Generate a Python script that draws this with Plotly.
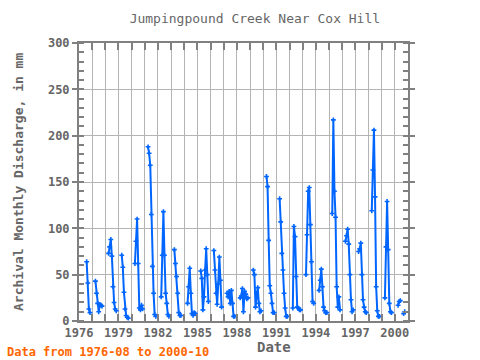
import plotly.graph_objects as go

# ---- data (monthly discharge, mm), open-water season segments ----
years = list(range(1976, 2001))
first_month = [8] + [4] * 24
values_by_year = [
    [64, 41, 13, 9],                          # 1976
    [43, 30, 19, 10, 18, 17, 16],             # 1977
    [73, 80, 88, 70, 37, 20, 13, 11],         # 1978
    [71, 58, 31, 13, 6, 4, 3],                # 1979
    [62, 86, 110, 62, 14, 12, 17, 13],        # 1980
    [188, 181, 168, 115, 59, 30, 7, 5],       # 1981
    [26, 71, 118, 71, 30, 19, 7, 5],          # 1982
    [77, 62, 48, 30, 9, 6, 6],                # 1983
    [19, 37, 57, 30, 8, 6, 9, 8],             # 1984
    [54, 46, 12, 26, 55, 78, 50, 21],         # 1985
    [76, 55, 30, 18, 40, 69, 44, 15],         # 1986
    [30, 26, 32, 19, 33, 19, 5, 5],           # 1987
    [25, 27, 35, 10, 32, 29, 24, 25],         # 1988
    [55, 50, 15, 30, 36, 19, 10, 11],         # 1989
    [156, 145, 87, 38, 30, 19, 9, 9],         # 1990
    [132, 107, 73, 55, 30, 14, 5, 5],         # 1991
    [14, 102, 91, 48, 15, 14, 12, 12],        # 1992
    [50, 93, 140, 144, 104, 64, 21, 19],      # 1993
    [33, 44, 56, 37, 15, 11, 9, 9],           # 1994
    [116, 217, 140, 112, 37, 15, 26, 12],     # 1995
    [86, 92, 99, 83, 50, 23, 10, 12],         # 1996
    [75, 78, 84, 50, 23, 15, 10, 9],          # 1997
    [119, 163, 206, 134, 37, 11, 5, 5],       # 1998
    [25, 80, 129, 77, 19, 10, 9],             # 1999
    [17, 21, 22, None, None, 8, 10],          # 2000
]
y_ticks = [0, 50, 100, 150, 200, 250, 300]

# build date series with gaps between seasons
x, y = [], []
for yr, m0, vals in zip(years, first_month, values_by_year):
    for i, v in enumerate(vals):
        x.append(f"{yr}-{m0 + i:02d}-01")
        y.append(v)
    x.append(f"{yr}-12-15")
    y.append(None)

FONT = "DejaVu Sans Mono"
GREY = "#666666"
AX = "#808080"

fig = go.Figure()
fig.add_trace(go.Scatter(
    x=x, y=y, mode="lines+markers", connectgaps=False,
    line=dict(color="#0066ff", width=2),
    marker=dict(symbol="cross", size=4, color="#0066ff", line=dict(width=0)),
    hoverinfo="skip", showlegend=False,
))

fig.update_layout(
    width=480, height=360, autosize=False,
    margin=dict(l=79, r=72, t=43, b=39),
    paper_bgcolor="white", plot_bgcolor="white",
    title=dict(text="Jumpingpound Creek Near Cox Hill", x=0.531, xref="container",
               y=0.95, yref="container", xanchor="center", yanchor="middle",
               font=dict(family=FONT, size=13, color=GREY)),
    xaxis=dict(
        type="date", range=["1976-01-01", "2001-01-01"],
        tick0="1976-01-01", dtick="M36", tickformat="%Y",
        ticks="inside", ticklen=7, tickcolor=AX, tickwidth=2,
        showgrid=True, gridcolor="#b4b4b4", gridwidth=1,
        minor=dict(dtick="M12", tick0="1976-01-01", ticks="inside", ticklen=7,
                   tickcolor=AX, tickwidth=2, showgrid=True, gridcolor="#b4b4b4"),
        showline=True, linecolor=AX, linewidth=2, mirror="allticks",
        tickfont=dict(family=FONT, size=12, color=GREY, weight="bold"),
        zeroline=False,
    ),
    yaxis=dict(
        range=[0, 300], tickvals=y_ticks,
        ticks="outside", ticklen=5, tickcolor=AX, tickwidth=2,
        showgrid=True, gridcolor="#b4b4b4", gridwidth=1,
        minor=dict(dtick=10, ticks="inside", ticklen=5, tickcolor=AX, tickwidth=2,
                   showgrid=False),
        showline=True, linecolor=AX, linewidth=2, mirror="allticks",
        tickfont=dict(family=FONT, size=12, color=GREY, weight="bold"),
        zeroline=False,
    ),
    annotations=[
        dict(text="Archival Monthly Discharge, in mm", xref="paper", yref="paper",
             x=-0.1854, y=0.5, textangle=-90, showarrow=False,
             xanchor="center", yanchor="middle",
             font=dict(family=FONT, size=13, color=GREY, weight="bold")),
        dict(text="Date", xref="paper", yref="paper", x=0.593, y=-0.0935,
             showarrow=False, xanchor="center", yanchor="middle",
             font=dict(family=FONT, size=14, color=GREY, weight="bold")),
        dict(text="Data from 1976-08 to 2000-10", xref="paper", yref="paper",
             x=-0.225, y=-0.1115, showarrow=False, xanchor="left", yanchor="middle",
             font=dict(family=FONT, size=12, color="#ff6600", weight="bold")),
    ],
)

fig.write_html("out.html", config={"displayModeBar": False},
               post_script="document.body.style.margin='0';")
